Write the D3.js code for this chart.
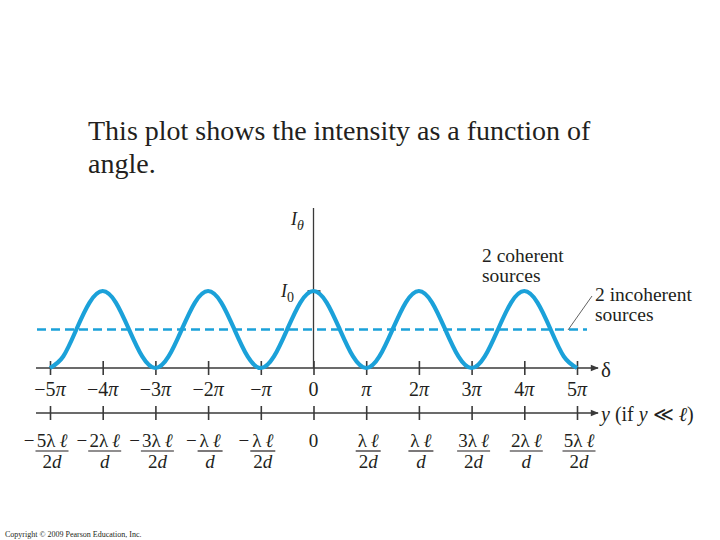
<!DOCTYPE html>
<html>
<head>
<meta charset="utf-8">
<script src="https://cdn.jsdelivr.net/npm/d3@7"></script>
<style>
body { margin: 0; background: #fff; }
svg text { font-family: "Liberation Serif", "DejaVu Serif", serif; fill: #231f20; }
.axis path, .axis line { stroke: #3a3a3a; stroke-width: 1.6; }
</style>
</head>
<body>
<svg id="chart" width="720" height="540"></svg>
<script>
// phase difference in units of pi, every quarter pi from -5 to 5
var deltaSteps = d3.range(-20, 21).map(function(k){ return k / 4; });
// I / I0 at each step (one period repeats)
var intensity = [0, .15, .5, .85, 1, .85, .5, .15,
                 0, .15, .5, .85, 1, .85, .5, .15,
                 0, .15, .5, .85, 1, .85, .5, .15,
                 0, .15, .5, .85, 1, .85, .5, .15,
                 0, .15, .5, .85, 1, .85, .5, .15, 0];
var incoherent = 0.5;
var tickPi = [-5, -4, -3, -2, -1, 0, 1, 2, 3, 4, 5];
var deltaLabels = ["−5π", "−4π", "−3π", "−2π", "−π", "0", "π", "2π", "3π", "4π", "5π"];
// y labels: [sign, numerator, denominator]
var yLabels = [["−","5λ","2d"], ["−","2λ","d"], ["−","3λ","2d"], ["−","λ","d"], ["−","λ","2d"],
               ["","0",""], ["","λ","2d"], ["","λ","d"], ["","3λ","2d"], ["","2λ","d"], ["","5λ","2d"]];

var svg = d3.select("#chart");
var blue = "#1ba1d9";

var x = d3.scaleLinear().domain([-5, 5]).range([50, 577]);
var y = d3.scaleLinear().domain([0, 1]).range([368, 291]);

svg.append("defs").append("marker")
  .attr("id", "arr").attr("viewBox", "0 0 10 10").attr("refX", 9).attr("refY", 5)
  .attr("markerWidth", 13).attr("markerHeight", 8).attr("markerUnits", "userSpaceOnUse")
  .attr("orient", "auto")
  .append("path").attr("d", "M0,1 L10,5 L0,9 Z").attr("fill", "#3a3a3a");

// title
svg.append("text").attr("x", 88).attr("y", 140).style("font-size", "28px")
  .text("This plot shows the intensity as a function of");
svg.append("text").attr("x", 88).attr("y", 173).style("font-size", "28px")
  .text("angle.");

// vertical axis
svg.append("line").attr("x1", x(0)).attr("x2", x(0)).attr("y1", 208).attr("y2", y(0))
  .attr("stroke", "#3a3a3a").attr("stroke-width", 1.3);
svg.append("line").attr("x1", x(0) - 6).attr("x2", x(0) + 7).attr("y1", y(1)).attr("y2", y(1))
  .attr("stroke", "#3a3a3a").attr("stroke-width", 1.6);

// dashed incoherent line
svg.append("line").attr("x1", 37).attr("x2", 587).attr("y1", y(incoherent)).attr("y2", y(incoherent))
  .attr("stroke", blue).attr("stroke-width", 2.4).attr("stroke-dasharray", "9,5");

function drawAxis(yPos) {
  var g = svg.append("g").attr("class", "axis").attr("transform", "translate(0," + yPos + ")")
    .call(d3.axisBottom(x).tickValues(tickPi).tickFormat("").tickSizeOuter(0));
  g.select(".domain").remove();
  g.selectAll(".tick line").attr("y1", -7).attr("y2", 7);
  g.append("line").attr("x1", 36).attr("x2", 598).attr("y1", 0).attr("y2", 0)
    .attr("stroke", "#3a3a3a").attr("stroke-width", 1.6).attr("marker-end", "url(#arr)");
  return g;
}
drawAxis(y(0));
drawAxis(413);

// curve
var line = d3.line()
  .x(function(d, i){ return x(deltaSteps[i]); })
  .y(function(d){ return y(d); })
  .curve(d3.curveNatural);
svg.append("path").datum(intensity).attr("d", line)
  .attr("fill", "none").attr("stroke", blue).attr("stroke-width", 4.2);

// delta labels
svg.selectAll(".dl").data(tickPi).enter().append("text")
  .attr("x", function(d){ return x(d); }).attr("y", 396)
  .attr("text-anchor", "middle").style("font-size", "20px")
  .each(function(d, i) {
    var s = deltaLabels[i];
    var t = d3.select(this);
    if (s.indexOf("π") < 0) { t.text(s); return; }
    t.append("tspan").text(s.replace("π", ""));
    t.append("tspan").style("font-style", "italic").text("π");
  });

// y labels as fractions
yLabels.forEach(function(l, i) {
  var cx = x(tickPi[i]) + 2;
  var g = svg.append("g");
  if (l[2] === "") {
    g.append("text").attr("x", cx - 2).attr("y", 447).attr("text-anchor", "middle")
      .style("font-size", "19px").text(l[1]);
    return;
  }
  var num = g.append("text").attr("x", cx).attr("y", 447).attr("text-anchor", "middle")
    .style("font-size", "19px");
  num.append("tspan").text(l[1]);
  num.append("tspan").attr("dx", 4).style("font-style", "italic").text("ℓ");
  g.append("text").attr("x", cx).attr("y", 468).attr("text-anchor", "middle")
    .style("font-size", "19px").each(function() {
      var t = d3.select(this);
      var m = l[2].replace("d", "");
      if (m) t.append("tspan").text(m);
      t.append("tspan").style("font-style", "italic").text("d");
    });
  var w = l[1].length > 1 ? 33 : 25;
  g.append("line").attr("x1", cx - w / 2).attr("x2", cx + w / 2).attr("y1", 451).attr("y2", 451)
    .attr("stroke", "#231f20").attr("stroke-width", 1.2);
  if (l[0]) {
    g.append("text").attr("x", cx - w / 2 - 1).attr("y", 447).attr("text-anchor", "end")
      .style("font-size", "19px").text(l[0]);
  }
});

// axis labels
var iTheta = svg.append("text").attr("x", 291).attr("y", 225).style("font-size", "18px");
iTheta.append("tspan").style("font-style", "italic").text("I");
iTheta.append("tspan").attr("dy", 5).style("font-size", "14px").style("font-style", "italic").text("θ");
var iZero = svg.append("text").attr("x", 281).attr("y", 297).style("font-size", "18px");
iZero.append("tspan").style("font-style", "italic").text("I");
iZero.append("tspan").attr("dy", 5).style("font-size", "14px").text("0");

svg.append("text").attr("x", 601).attr("y", 377).style("font-size", "21px").text("δ");
var yl = svg.append("text").attr("x", 601).attr("y", 421).style("font-size", "20px");
yl.append("tspan").style("font-style", "italic").text("y");
yl.append("tspan").text(" (if ");
yl.append("tspan").style("font-style", "italic").text("y");
yl.append("tspan").text(" ≪ ");
yl.append("tspan").style("font-style", "italic").text("ℓ");
yl.append("tspan").text(")");

// annotations
svg.append("text").attr("x", 482).attr("y", 262).style("font-size", "19.5px").text("2 coherent");
svg.append("text").attr("x", 482).attr("y", 282).style("font-size", "19.5px").text("sources");
svg.append("text").attr("x", 595).attr("y", 301).style("font-size", "19.5px").text("2 incoherent");
svg.append("text").attr("x", 595).attr("y", 321).style("font-size", "19.5px").text("sources");
svg.append("line").attr("x1", 568).attr("y1", 330).attr("x2", 592).attr("y2", 296)
  .attr("stroke", "#3a3a3a").attr("stroke-width", 0.8);

svg.append("text").attr("x", 5).attr("y", 537).style("font-size", "8px")
  .text("Copyright © 2009 Pearson Education, Inc.");
</script>
</body>
</html>
